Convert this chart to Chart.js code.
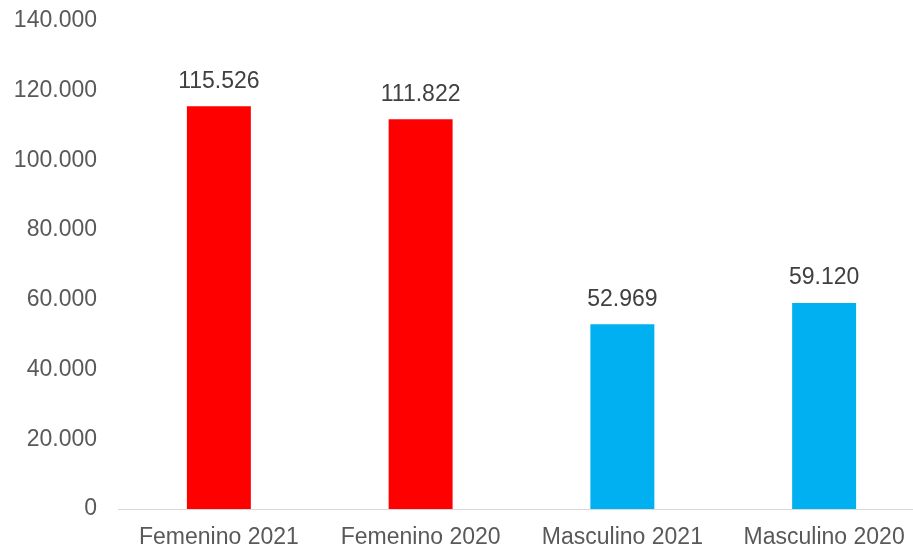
<!DOCTYPE html>
<html>
<head>
<meta charset="utf-8">
<script src="https://cdn.jsdelivr.net/npm/chart.js@4/dist/chart.umd.min.js"></script>
<style>
html,body{margin:0;padding:0;background:#fff;overflow:hidden;width:913px;height:548px;}
#wrap{width:930px;height:548px;}
</style>
</head>
<body>
<div id="wrap"><canvas id="c" width="930" height="548"></canvas></div>
<script>
const categories = ["Femenino 2021", "Femenino 2020", "Masculino 2021", "Masculino 2020"];
const values = [115526, 111822, 52969, 59120];
const barColors = ["#FF0000", "#FF0000", "#00B0F0", "#00B0F0"];
const yTicks = [0, 20000, 40000, 60000, 80000, 100000, 120000, 140000];

function fmt(v){ return String(v).replace(/\B(?=(\d{3})+(?!\d))/g, "."); }

const valueLabels = {
  id: "valueLabels",
  afterDatasetsDraw(chart){
    const ctx = chart.ctx;
    const meta = chart.getDatasetMeta(0);
    ctx.save();
    ctx.font = "23px 'Liberation Sans', Arial, sans-serif";
    ctx.fillStyle = "#404040";
    ctx.textAlign = "center";
    ctx.textBaseline = "middle";
    meta.data.forEach((bar, i) => {
      ctx.fillText(fmt(values[i]), bar.x, bar.y - 25);
    });
    ctx.restore();
  }
};

new Chart(document.getElementById("c"), {
  type: "bar",
  data: {
    labels: categories,
    datasets: [{
      data: values,
      backgroundColor: barColors,
      borderWidth: 0,
      barPercentage: 0.317,
      categoryPercentage: 1
    }]
  },
  options: {
    responsive: false,
    animation: false,
    devicePixelRatio: 1,
    layout: { padding: { top: 21, right: 5, bottom: 0, left: 0 } },
    plugins: { legend: { display: false }, tooltip: { enabled: false } },
    scales: {
      x: {
        afterFit(scale){ scale.height = 39; scale.paddingLeft = 0; scale.paddingRight = 0; },
        grid: { display: false, drawTicks: false },
        border: { display: true, color: "#D9D9D9", width: 1 },
        ticks: {
          color: "#595959",
          font: { family: "'Liberation Sans', Arial, sans-serif", size: 23, lineHeight: 1 },
          padding: 17,
          maxRotation: 0,
          autoSkip: false
        }
      },
      y: {
        min: 0,
        max: 140000,
        afterFit(scale){ scale.width = 118; scale.paddingTop = 14; scale.paddingBottom = 14; },
        afterBuildTicks(scale){ scale.ticks = yTicks.map(v => ({ value: v })); },
        grid: { display: false, drawTicks: false },
        border: { display: false },
        ticks: {
          color: "#595959",
          font: { family: "'Liberation Sans', Arial, sans-serif", size: 23 },
          padding: 21,
          callback: (v) => fmt(v)
        }
      }
    }
  },
  plugins: [valueLabels]
});
</script>
</body>
</html>
